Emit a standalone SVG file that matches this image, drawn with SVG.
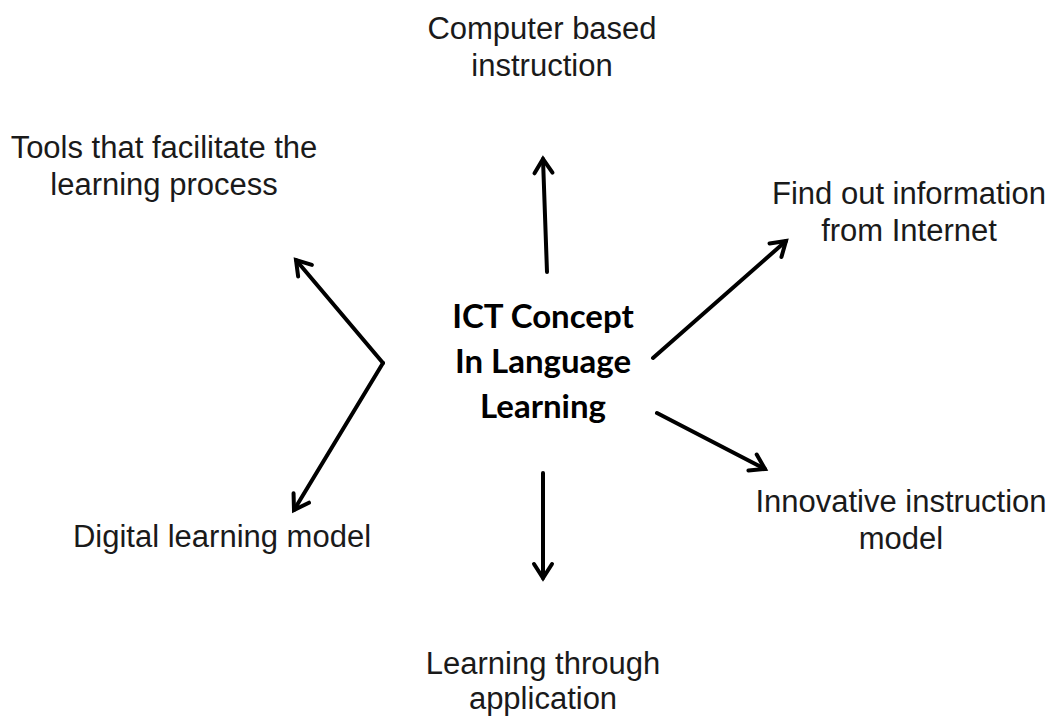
<svg xmlns="http://www.w3.org/2000/svg" width="1053" height="718" viewBox="0 0 1053 718">
  <style>
    .lbl { font-family: "Liberation Sans", Arial, Helvetica, sans-serif; font-size: 31px; fill: #1a1a1a; text-anchor: middle; }
    .hub { font-family: Lato, "Open Sans", sans-serif; font-weight: bold; font-size: 33px; fill: #000; text-anchor: middle; }
    .arrow { stroke: #000; stroke-width: 4; fill: none; stroke-linecap: round; marker-end: url(#head); }
  </style>
  <defs>
    <marker id="head" markerUnits="userSpaceOnUse" markerWidth="30" markerHeight="30" viewBox="-20 -15 24 30" refX="0" refY="0" orient="auto">
      <path d="M -14 -9 L 0 0 L -14 9" fill="none" stroke="#000" stroke-width="4" stroke-linejoin="miter" stroke-linecap="round"/>
    </marker>
  </defs>
  <rect width="1053" height="718" fill="#fff"/>

  <!-- central concept -->
  <g id="hub">
    <text class="hub" x="543" y="328">ICT Concept</text>
    <text class="hub" x="543" y="373">In Language</text>
    <text class="hub" x="543" y="418">Learning</text>
  </g>

  <!-- outer topics -->
  <g id="computer-based">
    <text class="lbl" x="542" y="39">Computer based</text>
    <text class="lbl" x="542" y="76">instruction</text>
  </g>
  <g id="tools">
    <text class="lbl" x="164" y="158">Tools that facilitate the</text>
    <text class="lbl" x="164" y="195">learning process</text>
  </g>
  <g id="find-out">
    <text class="lbl" x="909" y="204">Find out information</text>
    <text class="lbl" x="909" y="241">from Internet</text>
  </g>
  <g id="innovative">
    <text class="lbl" x="901" y="512">Innovative instruction</text>
    <text class="lbl" x="901" y="549">model</text>
  </g>
  <g id="digital">
    <text class="lbl" x="222" y="547">Digital learning model</text>
  </g>
  <g id="application">
    <text class="lbl" x="543" y="674">Learning through</text>
    <text class="lbl" x="543" y="709">application</text>
  </g>

  <!-- connectors -->
  <g id="connectors">
    <line class="arrow" x1="547" y1="272" x2="543" y2="159"/>
    <line class="arrow" x1="383" y1="363" x2="296" y2="260"/>
    <line class="arrow" x1="383" y1="363" x2="294" y2="510"/>
    <line class="arrow" x1="653" y1="358" x2="786" y2="241"/>
    <line class="arrow" x1="657" y1="413" x2="765" y2="469"/>
    <line class="arrow" x1="543" y1="473" x2="543" y2="578"/>
  </g>
</svg>
